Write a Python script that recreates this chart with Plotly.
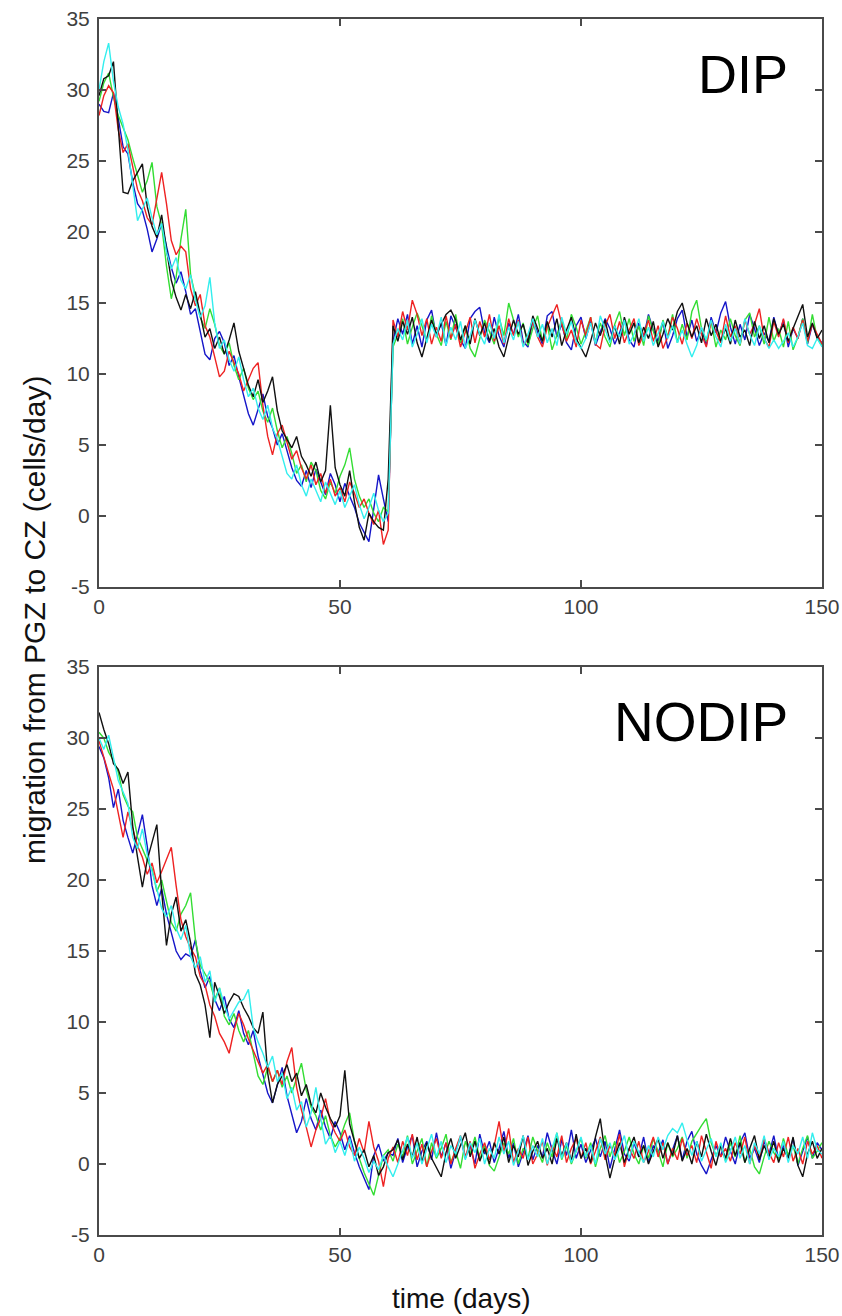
import plotly.graph_objects as go

days = list(range(151))

# ---------------- DIP panel (top) ----------------
dip_blue_fall = [29.0, 28.5, 28.4, 29.8, 28.0, 26.0, 25.5, 23.5, 22.0, 21.5,
                 20.2, 18.6, 19.5, 20.6, 19.0, 17.5, 16.4, 17.2, 15.8, 14.2,
                 14.6, 13.0, 11.4, 11.0, 12.5, 13.0, 12.2, 10.6, 11.3, 9.8,
                 8.4, 7.2, 6.4, 7.5, 8.6, 7.0, 6.2, 5.0, 5.8, 4.6,
                 3.4, 2.5, 2.1, 3.2, 2.0, 3.3, 2.4, 1.5, 3.0, 2.2,
                 1.0, 2.3, 1.4, 0.6, -0.5, -1.2, -1.8, 0.5, 2.9, 1.2,
                 -0.4]
dip_blue_flat = [12.3, 13.9, 12.8, 14.2, 12.1, 13.4, 11.9, 13.8, 14.5, 12.6,
                 13.6, 12.0, 14.1, 13.3, 12.4, 11.8, 13.9, 14.4, 14.7, 12.9,
                 12.2, 14.0, 12.7, 11.9, 13.6, 12.8, 14.2, 12.3, 11.9, 13.8,
                 13.0, 12.1, 14.1, 14.4, 12.6, 13.5, 12.2, 11.7, 13.4, 14.0,
                 12.5, 13.7, 12.0, 12.9, 13.9, 13.2, 12.1, 12.9, 13.8, 12.4,
                 11.9, 13.6, 12.6, 14.2, 13.1, 12.3, 13.7, 11.8, 12.7, 13.9,
                 14.5, 12.6, 13.8, 12.3, 13.2, 12.0, 14.0, 12.9, 14.3, 15.1,
                 13.3, 12.1, 13.5, 12.4, 14.2, 13.2, 12.0, 12.9, 12.3, 14.0,
                 12.7, 13.8, 11.9, 13.2, 12.5, 13.9, 12.1, 13.5, 12.6, 12.2]

dip_green_fall = [29.2, 30.5, 31.2, 29.5, 28.2, 27.4, 26.5, 25.2, 24.0, 22.8,
                  23.6, 24.9, 21.8, 20.5, 17.6, 15.3, 16.8, 19.5, 21.6, 17.0,
                  15.5, 14.0, 13.2, 14.6, 13.5, 12.0, 11.4, 12.2, 10.6, 9.6,
                  10.4, 9.0, 8.2, 8.8, 7.4, 6.6, 7.6, 6.0, 4.8, 5.6,
                  4.4, 3.0, 3.6, 2.4, 3.8, 3.2, 1.8, 1.2, 2.4, 1.6,
                  2.8, 3.6, 4.8, 2.6, 1.4, 0.6, 1.2, 0.2, -0.4, 0.6,
                  0.3]
dip_green_flat = [11.9, 12.8, 13.9, 12.1, 13.3, 14.3, 13.4, 12.3, 14.1, 12.8,
                  12.0, 13.7, 12.4, 14.2, 12.2, 13.4, 11.8, 11.2, 12.5, 13.8,
                  13.0, 12.1, 14.0, 12.7, 15.0, 13.8, 12.6, 13.6, 12.0, 13.2,
                  14.1, 12.3, 13.5, 11.7, 12.7, 13.8, 12.4, 14.2, 13.3, 12.1,
                  13.0, 14.0, 12.2, 13.6, 12.6, 11.9, 13.5, 14.4, 12.7, 13.9,
                  12.3, 13.4, 12.0, 14.1, 13.0, 12.0, 13.8, 12.6, 14.2, 12.2,
                  13.5, 12.4, 14.4, 15.2, 13.2, 12.3, 13.7, 11.9, 13.1, 12.4,
                  13.9, 12.7, 12.0, 13.8, 14.3, 12.6, 13.4, 12.1, 14.0, 12.3,
                  13.2, 11.9, 13.7, 11.7, 12.6, 13.9, 12.2, 14.2, 12.5, 12.0]

dip_red_fall = [28.2, 29.6, 30.3, 29.8, 27.2, 25.6, 26.2, 24.6, 23.0, 22.2,
                21.0, 20.5, 22.4, 24.2, 22.0, 19.4, 18.4, 19.0, 18.6, 16.0,
                14.8, 15.6, 13.4, 12.6, 11.2, 9.8, 10.2, 11.6, 10.8, 10.0,
                8.8, 9.6, 10.4, 10.8, 7.8, 5.6, 4.3, 5.8, 6.4, 5.2,
                4.0, 4.6, 3.4, 2.6, 3.6, 2.2, 3.0, 1.6, 2.6, 1.4,
                2.0, 1.0, 2.4, 1.6, 0.6, 1.2, 0.2, -0.6, 0.4, -2.0,
                -1.0]
dip_red_flat = [13.8, 12.6, 14.4, 13.1, 15.2, 14.2, 12.7, 13.9, 12.1, 13.3,
                12.3, 14.1, 12.5, 13.5, 11.9, 13.0, 14.0, 12.2, 13.7, 12.6,
                14.2, 12.3, 13.4, 12.1, 13.9, 12.7, 13.8, 12.0, 12.5, 13.7,
                12.6, 11.9, 13.3, 14.1, 14.9, 13.5, 12.3, 13.1, 11.9, 13.8,
                12.7, 14.0, 12.1, 11.8, 13.4, 14.2, 12.5, 13.7, 12.2, 13.1,
                13.9, 12.0, 12.8, 13.8, 12.3, 13.4, 11.8, 12.6, 14.0, 13.2,
                12.1, 13.6, 12.5, 13.9, 12.8, 11.9, 13.7, 13.0, 12.2, 14.1,
                12.6, 13.4, 12.1, 13.8, 12.8, 13.5, 14.6, 12.5, 11.9, 13.7,
                12.6, 13.9, 12.2, 13.3, 12.5, 13.8, 12.3, 13.5, 12.8, 12.1]

dip_cyan_fall = [30.0, 32.0, 33.3, 30.6, 28.8, 27.6, 25.8, 23.2, 20.8, 21.6,
                 22.4, 21.0, 19.8, 20.6, 18.6, 17.4, 18.2, 16.6, 16.0, 17.0,
                 15.2, 14.0, 14.8, 16.8, 13.6, 11.8, 12.4, 11.0, 10.2, 11.2,
                 9.6, 8.4, 9.0, 7.6, 6.8, 7.8, 6.2, 5.4, 4.2, 3.0,
                 2.6, 3.6, 2.2, 1.4, 2.6, 1.8, 1.0, 2.4, 1.6, 0.8,
                 1.8, 0.6, 1.4, 2.2, 0.8, -0.2, 0.6, 1.6, 0.4, -0.4,
                 0.2]
dip_cyan_flat = [12.1, 13.2, 12.4, 13.8, 11.9, 12.8, 13.9, 12.2, 13.5, 12.6,
                 14.0, 12.0, 13.3, 12.4, 13.7, 11.8, 12.7, 13.8, 12.8, 12.1,
                 13.6, 12.5, 14.2, 12.2, 13.3, 12.4, 13.7, 11.9, 12.8, 13.9,
                 12.6, 13.5, 12.2, 13.2, 12.0, 14.0, 12.8, 13.7, 12.3, 11.8,
                 12.5, 13.6, 12.1, 14.1, 13.1, 12.2, 13.4, 12.6, 13.8, 12.1,
                 12.8, 13.9, 12.3, 13.3, 12.0, 12.8, 13.7, 12.5, 13.4, 12.2,
                 13.1, 12.1, 11.2, 12.0, 13.3, 12.4, 13.8, 12.6, 11.9, 13.5,
                 12.3, 13.2, 12.1, 13.9, 12.8, 12.0, 13.4, 12.5, 11.8, 12.4,
                 11.8, 12.3, 12.9, 11.9, 12.6, 13.6, 12.0, 11.8, 12.5, 11.9]

dip_black_fall = [29.6, 30.8, 31.0, 32.0, 27.4, 22.8, 22.7, 23.6, 24.2, 24.8,
                  21.8, 20.4, 19.6, 21.2, 18.8, 16.6, 15.4, 14.5, 15.6, 14.6,
                  15.8, 14.2, 12.6, 13.2, 11.8, 12.6, 11.4, 12.4, 13.6, 11.6,
                  10.4, 9.2, 8.4, 9.6, 8.0, 8.8, 9.8, 7.4, 6.0, 5.4,
                  4.8, 5.6, 4.2, 3.6, 2.8, 3.8, 2.4, 3.2, 7.8, 3.4,
                  2.2, 1.4, 3.2, 1.0, -0.8, -1.7, 0.2, -0.4, -0.8, -1.0,
                  2.6]
dip_black_flat = [13.4, 12.3, 13.7, 12.8, 14.0, 12.2, 11.2, 12.6, 13.8, 12.8,
                  13.5, 14.2, 14.5, 13.8, 12.4, 13.4, 12.1, 13.9, 12.7, 13.6,
                  12.3, 13.2, 11.9, 11.2, 12.6, 13.8, 12.8, 13.5, 12.2, 14.1,
                  13.2, 12.3, 13.7, 12.6, 13.9, 12.0, 13.1, 14.0, 12.5, 11.8,
                  11.2, 12.3, 13.6, 12.7, 13.8, 12.3, 13.4, 12.1, 14.0, 12.8,
                  13.6, 12.2, 13.3, 12.5, 13.7, 11.9, 12.8, 13.9, 13.1, 14.4,
                  15.0, 13.6, 12.6, 13.4, 12.2, 13.9, 12.7, 13.5, 12.3, 13.2,
                  12.1, 13.8, 12.6, 13.1, 12.0, 13.7, 12.5, 13.4, 12.2, 13.9,
                  12.8, 13.5, 12.3, 13.2, 14.1, 14.9, 12.6, 13.6, 12.5, 13.1]

# ---------------- NODIP panel (bottom) ----------------
nodip_blue_fall = [29.4, 28.6, 27.2, 25.1, 26.4, 24.2, 23.0, 21.9, 23.2, 24.6,
                   22.4, 19.6, 18.2, 19.4, 17.6, 16.2, 15.0, 14.4, 14.8, 14.6,
                   15.8, 13.6, 12.4, 13.2, 11.6, 10.8, 11.8, 10.2, 9.6, 10.8,
                   9.2, 8.4, 9.4, 7.6, 6.2, 5.0, 4.3, 5.6, 6.8, 4.8,
                   3.4, 2.2, 3.0, 4.6, 3.2, 2.4, 3.8, 2.6, 1.8, 3.0,
                   2.2, 1.0, 2.0, 0.8, -0.2, -1.0, -1.8, 0.6, 1.4, 0.2,
                   0.8]
nodip_blue_flat = [0.6, 1.8, 0.1, 1.2, 2.0, -0.2, 0.9, 1.6, 0.3, 2.2,
                   0.5, 1.5, -0.3, 0.9, 1.9, 0.4, 1.3, 0.0, 2.1, 0.7,
                   1.6, 0.1, 1.1, 2.3, 0.4, 1.5, -0.2, 0.8, 2.0, 0.3,
                   1.3, 0.5, 2.2, 1.0, 0.0, 1.7, 0.6, 2.4, 0.4, 1.4,
                   0.1, 0.9, 1.8, 0.5, 1.6, -0.3, 1.0, 2.4, 0.7, 0.2,
                   1.5, 0.5, 1.9, 0.1, 1.3, 0.8, 1.7, 0.0, 1.0, 2.0,
                   0.3, 1.6, 2.3, 0.7, -0.1, -0.7, 0.3, 1.3, 0.5, 1.9,
                   0.9, 0.0, 1.5, 2.2, 0.4, 1.1, 0.1, 1.6, 0.7, 2.0,
                   0.3, 1.3, 0.5, 1.8, -0.1, 0.9, 1.9, 0.4, 1.5, 1.0]

nodip_green_fall = [30.4, 30.0, 29.0, 28.4, 27.6, 26.0, 25.2, 24.8, 23.0, 22.2,
                    21.4, 20.8, 19.2, 20.0, 18.4, 17.0, 16.4, 17.6, 18.2, 19.1,
                    15.8, 14.0, 13.4, 12.8, 11.6, 12.4, 10.4, 9.8, 10.6, 9.4,
                    8.6, 9.4, 7.8, 6.2, 5.6, 6.8, 5.8, 6.6, 5.4, 6.2,
                    5.0, 6.0, 7.1, 5.2, 4.0, 3.4, 2.4, 3.4, 2.0, 1.2,
                    1.8, 2.8, 3.6, 1.6, 0.4, -0.6, -1.4, -2.2, -0.8, 0.6,
                    1.0]
nodip_green_flat = [0.2, 1.4, 0.5, 2.0, 0.0, 0.9, 1.8, -0.2, 1.5, 0.4,
                    1.1, 2.1, 0.1, 0.9, -0.3, 1.6, 0.7, 1.9, 0.3, 1.3,
                    -0.1, -0.5, 0.5, 1.5, 0.7, 1.8, 0.0, 1.1, 0.4, 1.9,
                    0.9, 0.1, 1.5, 0.5, 2.2, 0.3, 1.3, 0.0, 0.9, 1.8,
                    0.4, 1.5, -0.2, 1.1, 2.0, 0.5, 1.6, 0.1, 0.9, 1.9,
                    0.7, 0.0, 1.3, 0.4, 1.8, 0.9, -0.2, 1.5, 0.5, 1.1,
                    1.9, 0.4, 1.6, 2.2, 2.7, 3.2, 1.5, 0.6, 1.3, 0.2,
                    1.5, 0.5, 2.0, 0.1, 1.1, -0.2, -0.7, 0.5, 1.6, 0.8,
                    0.3, 1.8, 0.6, 1.3, 0.0, 1.1, 2.0, 0.4, 0.9, 1.5]

nodip_red_fall = [29.8, 28.6, 27.5, 26.4, 24.6, 23.0, 24.8, 23.6, 22.4, 21.6,
                  20.4, 21.2, 19.8, 20.6, 21.4, 22.3, 19.6, 17.2, 16.0, 15.2,
                  14.6, 13.2, 12.6, 11.2, 10.4, 9.2, 8.6, 7.8, 9.4, 10.6,
                  9.8, 8.8, 8.0, 7.2, 6.4, 7.0, 5.8, 6.6, 5.6, 7.2,
                  8.2, 5.4, 3.8, 2.6, 1.2, 2.4, 3.2, 4.6, 3.0, 2.2,
                  1.6, 2.4, 1.2, 0.6, 1.8, 0.8, 3.0, 1.2, 0.2, -1.6,
                  0.4]
nodip_red_flat = [1.2, 0.1, 1.6, 0.6, 2.1, 0.3, 1.4, -0.2, 0.9, 1.8,
                  0.4, 1.5, 0.0, 1.1, 2.0, 0.5, 1.6, -0.3, 0.7, 1.5,
                  0.3, 1.3, 3.0, 0.8, 2.5, 0.1, 1.1, 0.4, 1.9, 0.0,
                  0.7, 1.6, -0.1, 1.3, 0.5, 2.0, 0.1, 1.1, 1.8, 0.4,
                  1.5, 0.0, 0.9, 1.9, 0.3, 1.3, 0.6, 2.1, -0.2, 1.1,
                  0.4, 1.6, 0.1, 0.9, 1.9, 0.5, 1.5, 0.0, 1.1, 0.3,
                  1.8, 0.6, 1.3, 0.1, 2.0, 0.8, -0.3, 1.6, 0.5, 1.1,
                  0.2, 1.5, 0.7, 1.9, 0.0, 1.3, 0.4, 1.8, 0.8, 0.1,
                  1.5, 0.5, 1.9, 0.2, 1.1, 0.0, 1.6, 0.7, 1.3, 0.4]

nodip_cyan_fall = [30.0, 29.2, 30.2, 28.6, 27.0, 26.2, 25.4, 23.0, 22.2, 23.6,
                   21.8, 20.6, 19.4, 18.0, 17.4, 18.2, 16.6, 15.8, 16.8, 14.6,
                   13.8, 14.6, 12.8, 13.6, 11.4, 12.4, 11.2, 10.2, 10.8, 11.4,
                   11.6, 12.3, 9.6, 8.6, 7.8, 6.8, 7.6, 5.8, 6.4, 4.6,
                   5.4, 3.8, 4.4, 2.6, 3.6, 5.4, 3.2, 1.4, 2.0, 0.8,
                   1.6, 0.6, 1.8, 0.2, 1.2, 0.4, -0.6, 0.2, -0.4, 0.6,
                   -0.2]
nodip_cyan_flat = [-0.9, 0.0, 0.9, 1.9, 0.4, 1.5, 0.0, 1.1, 2.1, 0.5,
                   1.6, 0.1, 1.3, 0.7, 2.0, 0.3, 1.5, 0.8, 1.8, 0.0,
                   1.1, 0.4, 1.9, 0.7, 1.6, -0.1, 0.9, 2.0, 0.3, 1.3,
                   0.5, 1.8, 0.0, 1.1, 2.2, 0.4, 1.5, 0.1, 0.9, 1.9,
                   0.5, 1.3, 0.0, 1.8, 0.7, 1.5, 0.3, 1.1, 2.0, 0.4,
                   1.6, 0.8, 0.1, 1.3, 0.5, 1.9, 1.0, 2.0, 2.5, 2.2,
                   2.9, 1.7, 0.6, 1.6, 0.2, 1.0, 1.8, 0.5, 1.5, 0.1,
                   0.9, 1.9, 0.4, 1.3, 0.0, 1.5, 0.7, 2.0, 0.3, 1.1,
                   0.5, 1.6, 0.1, 1.3, 0.7, 1.9, 0.4, 2.2, 1.0, 0.7]

nodip_black_fall = [31.8, 30.6, 29.6, 28.2, 27.8, 26.8, 27.6, 23.8, 21.6, 19.5,
                    21.4, 22.6, 23.9, 19.2, 15.4, 17.6, 18.8, 16.4, 17.2, 15.6,
                    13.4, 12.6, 11.2, 8.9, 12.8, 11.8, 10.6, 11.4, 12.0, 11.8,
                    11.0, 10.4, 9.6, 9.2, 10.7, 6.4, 4.3, 5.6, 6.2, 7.0,
                    5.8, 6.4, 4.8, 5.6, 4.2, 3.6, 5.0, 4.0, 3.2, 2.6,
                    3.4, 6.6, 2.8, 1.6, 0.4, 1.0, -0.2, 0.6, -0.8, -0.2,
                    0.8]
nodip_black_flat = [1.0, 1.7, 0.3, 1.4, 0.5, 1.9, 0.1, 1.5, 0.4, -0.3,
                    -0.9, 0.8, 1.8, 0.4, 1.3, 2.2, 0.5, 1.6, 0.2, 1.1,
                    0.0, 1.5, 0.7, 1.9, 0.1, 1.3, 0.5, 2.0, -0.1, 0.9,
                    1.6, 0.4, 1.1, 0.0, 1.8, 0.6, 1.5, 0.2, 2.1, 0.4,
                    1.1, 0.1, 1.9, 3.2, 0.7, -1.0, 0.4, 1.5, 0.1, 1.1,
                    1.9, 0.5, 1.3, 0.0, 0.9, 1.8, 0.4, 1.5, 0.6, 2.0,
                    0.2, 1.1, 0.0, 1.6, 0.5, 2.1, 0.9, -0.1, 1.3, 0.4,
                    1.8, 0.6, 1.5, 0.1, 1.1, 2.0, 0.3, 1.3, 0.5, 1.6,
                    0.1, 1.1, 0.4, 1.9, -0.1, -0.9, 0.7, 1.6, 0.4, 1.1]

series_names = ["run 1", "run 2", "run 3", "run 4", "run 5"]
series_colors = ["#1515c8", "#33dd33", "#ee2222", "#111111", "#33eeee"]

dip_series = [dip_blue_fall + dip_blue_flat, dip_green_fall + dip_green_flat,
              dip_red_fall + dip_red_flat, dip_black_fall + dip_black_flat,
              dip_cyan_fall + dip_cyan_flat]
nodip_series = [nodip_blue_fall + nodip_blue_flat, nodip_green_fall + nodip_green_flat,
                nodip_red_fall + nodip_red_flat, nodip_black_fall + nodip_black_flat,
                nodip_cyan_fall + nodip_cyan_flat]

x_ticks = [0, 50, 100, 150]
y_ticks = [-5, 0, 5, 10, 15, 20, 25, 30, 35]
x_ticktext = [str(v) for v in x_ticks]
y_ticktext = [str(v) for v in y_ticks]
panel_labels = ["DIP", "NODIP"]
y_title = "migration from PGZ to CZ (cells/day)"
x_title = "time (days)"

fig = go.Figure()
for ys, c, n in zip(dip_series, series_colors, series_names):
    fig.add_trace(go.Scatter(x=days, y=ys, mode="lines", name=n,
                             line=dict(color=c, width=1.4), xaxis="x", yaxis="y"))
for ys, c, n in zip(nodip_series, series_colors, series_names):
    fig.add_trace(go.Scatter(x=days, y=ys, mode="lines", name=n,
                             line=dict(color=c, width=1.4), xaxis="x2", yaxis="y2"))

W, H = 842, 1316
ml, mr, mt, mb = 99, 20, 19, 81
plot_w = W - ml - mr
plot_h = H - mt - mb
panel_h = 568
dom_bot = [0, panel_h / plot_h]
dom_top = [1 - panel_h / plot_h, 1]

tickfont = dict(family="Liberation Sans, Arial, sans-serif", size=21, color="#404040")
axis_common = dict(showline=True, linecolor="#4a4a4a", linewidth=2, mirror="allticks",
                   ticks="inside", ticklen=7, tickwidth=1.5, tickcolor="#4a4a4a",
                   showgrid=False, zeroline=False, tickfont=tickfont, automargin=False)

fig.update_layout(
    width=W, height=H, autosize=False,
    margin=dict(l=ml, r=mr, t=mt, b=mb, autoexpand=False),
    paper_bgcolor="white", plot_bgcolor="white",
    showlegend=False,
    xaxis=dict(domain=[0, 1], range=[0, 150], tickvals=x_ticks, ticktext=x_ticktext,
               anchor="y", **axis_common),
    yaxis=dict(domain=dom_top, range=[-5, 35], tickvals=y_ticks, ticktext=y_ticktext,
               anchor="x", ticklabelstandoff=3, **axis_common),
    xaxis2=dict(domain=[0, 1], range=[0, 150], tickvals=x_ticks, ticktext=x_ticktext,
                anchor="y2", **axis_common),
    yaxis2=dict(domain=dom_bot, range=[-5, 35], tickvals=y_ticks, ticktext=y_ticktext,
                anchor="x2", ticklabelstandoff=3, **axis_common),
)

fig.add_annotation(x=143.3, y=31.1, xref="x", yref="y", text=panel_labels[0],
                   showarrow=False, xanchor="right", yanchor="middle",
                   font=dict(family="Liberation Sans, Arial, sans-serif", size=54,
                             color="black"))
fig.add_annotation(x=143.3, y=31.1, xref="x2", yref="y2", text=panel_labels[1],
                   showarrow=False, xanchor="right", yanchor="middle",
                   font=dict(family="Liberation Sans, Arial, sans-serif", size=55,
                             color="black"))

fig.add_annotation(x=(35 - ml) / plot_w, y=(H - mb - 620) / plot_h,
                   xref="paper", yref="paper", text=y_title, textangle=-90,
                   showarrow=False, xanchor="center", yanchor="middle",
                   font=dict(family="Liberation Sans, Arial, sans-serif", size=30,
                             color="#111111"))
fig.add_annotation(x=0.5, y=(H - mb - 1298) / plot_h, xref="paper", yref="paper",
                   text=x_title, showarrow=False, xanchor="center", yanchor="middle",
                   font=dict(family="Liberation Sans, Arial, sans-serif", size=28,
                             color="#111111"))

fig.write_html("out.html")
